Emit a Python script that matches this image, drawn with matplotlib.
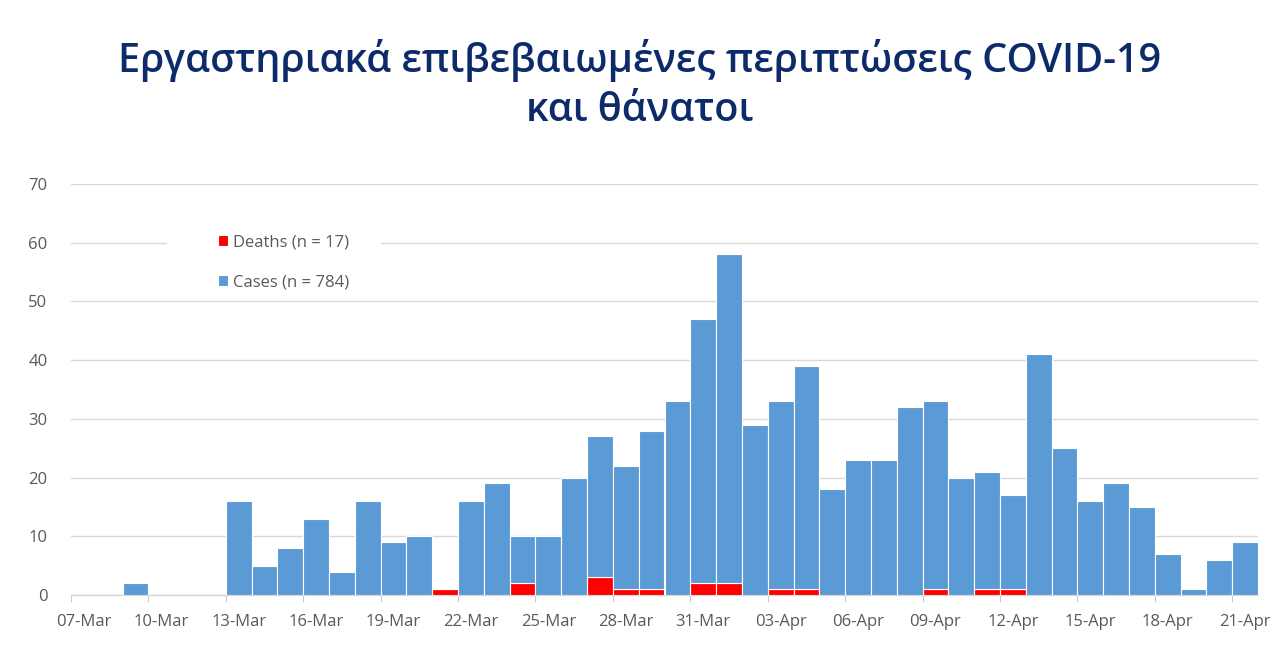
import numpy as np
import pandas as pd
import matplotlib
matplotlib.use("Agg")
import matplotlib.pyplot as plt
import matplotlib.dates as mdates
from matplotlib.patches import Rectangle

plt.rcParams['font.family'] = ['Open Sans', 'Noto Sans', 'DejaVu Sans']

# Daily counts 07-Mar .. 21-Apr (stacked: deaths at the bottom, cases on top)
dates = pd.date_range("2020-03-07", "2020-04-21", freq="D")
deaths = [0, 0, 0, 0, 0, 0, 0, 0, 0, 0, 0, 0, 0, 0,
          1, 0, 0, 2, 0, 0, 3, 1, 1, 0, 2, 2, 0, 1, 1,
          0, 0, 0, 0, 1, 0, 1, 1, 0, 0, 0, 0, 0, 0, 0, 0, 0]
cases = [0, 0, 2, 0, 0, 0, 16, 5, 8, 13, 4, 16, 9, 10,
         0, 16, 19, 8, 10, 20, 24, 21, 27, 33, 45, 56, 29, 32, 38,
         18, 23, 23, 32, 32, 20, 20, 16, 41, 25, 16, 19, 15, 7, 1, 6, 9]
tick_dates = pd.date_range("2020-03-07", "2020-04-21", freq="3D")

title = "Εργαστηριακά επιβεβαιωμένες περιπτώσεις COVID-19\nκαι θάνατοι"
label_deaths = "Deaths (n = 17)"
label_cases = "Cases (n = 784)"

grey = "#595959"

fig = plt.figure(figsize=(12.8, 6.65), dpi=100)
ax = fig.add_axes([71 / 1280, 70 / 665, (1258 - 71) / 1280, (595 - 184) / 665])

x = mdates.date2num(dates)
ax.bar(x, deaths, width=1.0, color="#ff0000", edgecolor="white", linewidth=0.8,
       label=label_deaths, zorder=3)
ax.bar(x, cases, width=1.0, bottom=deaths, color="#5b9bd5", edgecolor="white",
       linewidth=0.8, label=label_cases, zorder=3)

ax.set_xlim(x[0] - 0.5, x[-1] + 0.5)
ax.set_ylim(0, 70)
ax.set_yticks(range(0, 71, 10))
ax.yaxis.grid(True, color="#d9d9d9", linewidth=1, zorder=0)
ax.set_axisbelow(True)

# labels centred on the day, tick marks at the day boundaries
tx = mdates.date2num(tick_dates)
ax.set_xticks(tx)
ax.set_xticklabels([d.strftime("%d-%b") for d in tick_dates])
ax.set_xticks(tx - 0.5, minor=True)
ax.tick_params(axis="x", which="major", length=0, pad=14, labelsize=12, labelcolor=grey)
ax.tick_params(axis="x", which="minor", length=5, color="#bfbfbf")
ax.tick_params(axis="y", length=0, pad=17, labelsize=12, labelcolor=grey)

for side in ["top", "right", "left"]:
    ax.spines[side].set_visible(False)
ax.spines["bottom"].set_color("#d9d9d9")
ax.spines["bottom"].set_linewidth(1)

# white block behind the legend hides part of the 60 grid line
ax.add_patch(Rectangle((0.081, 0.80), 0.18, 0.11, transform=ax.transAxes,
                       facecolor="white", edgecolor="none", zorder=2))

h, l = ax.get_legend_handles_labels()
leg = ax.legend(h, l, loc="upper left", bbox_to_anchor=(0.108, 0.922),
                frameon=False, fontsize=12, handlelength=0.6, handleheight=0.6,
                handletextpad=0.3, labelspacing=1.45, borderpad=0.6,
                labelcolor=grey)
leg.set_zorder(5)

fig.text(0.50, 0.942, title, ha="center", va="top", fontsize=28.5, weight=600,
         color="#0d2b6b", linespacing=1.3)

fig.savefig("out.png", dpi=100, facecolor="white")
